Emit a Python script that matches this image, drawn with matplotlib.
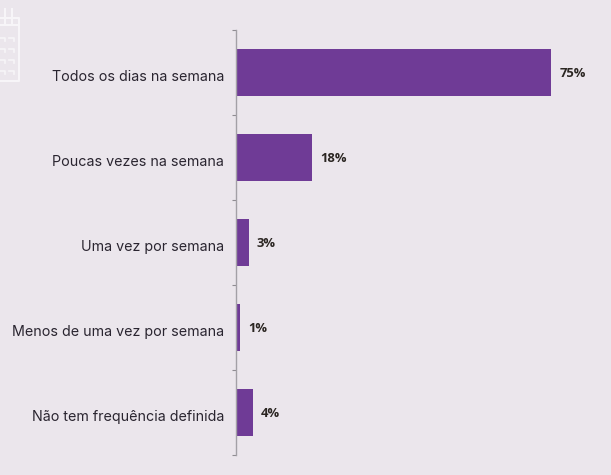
#!/usr/bin/env python3
import matplotlib
matplotlib.use("Agg")
import matplotlib.pyplot as plt
from matplotlib.lines import Line2D
from matplotlib.transforms import ScaledTranslation
import numpy as np

categories = ["Todos os dias na semana", "Poucas vezes na semana", "Uma vez por semana",
              "Menos de uma vez por semana", "Não tem frequência definida"]
values = [75, 18, 3, 1, 4]

BG = "#ebe6ec"
PURPLE = "#6f3b96"
W, H = 611, 475

fig = plt.figure(figsize=(W / 100, H / 100), dpi=100, facecolor=BG)
ax = fig.add_axes([236 / W, 1 - 455 / H, (W - 236) / W, 425 / H], facecolor="none")

y = np.arange(len(categories))
ax.barh(y, values, height=0.55, color=PURPLE)
ax.set_xlim(0, (W - 236) / 4.2)
ax.set_ylim(len(categories) - 0.5, -0.5)

for s in ["top", "right", "bottom"]:
    ax.spines[s].set_visible(False)
ax.spines["left"].set_color("#a3a0a6")
ax.spines["left"].set_linewidth(1.0)
ax.set_xticks([])

# tick marks sit between the bars, labels are on minor ticks at the bar centres
ax.set_yticks(np.arange(len(categories) + 1) - 0.5)
ax.set_yticklabels([])
ax.tick_params(axis="y", which="major", length=3.2, width=0.8, color="#8f8c92")
ax.set_yticks(y, minor=True)
ax.set_yticklabels(categories, minor=True, fontfamily="Inter", fontweight="normal",
                   fontsize=10.3, color="#2a2530")
ax.tick_params(axis="y", which="minor", length=0, pad=8.5)
shift = ScaledTranslation(0, -2.5 / 72, fig.dpi_scale_trans)
for lab in ax.get_yticklabels(minor=True):
    lab.set_transform(lab.get_transform() + shift)

for yi, v in zip(y, values):
    ax.annotate(f"{v}%", (v, yi), xytext=(6, -0.8), textcoords="offset points", va="center",
                ha="left", fontfamily="Open Sans", fontweight="bold", fontsize=9.4, color="#2b2622")

# calendar icon, cut by the left edge of the picture
icon = "#f7f5f8"
px = lambda xs, ys: ([a / W for a in xs], [1 - b / H for b in ys])
icon_paths = [
    ([0, 19, 19, 0], [18, 18, 81, 81]),
    ([0, 19], [25, 25]),
    ([5, 5], [9, 23]),
    ([12, 12], [9, 23]),
]
for xs, ys in icon_paths:
    fx, fy = px(xs, ys)
    fig.add_artist(Line2D(fx, fy, color=icon, lw=1.5))
for cy in [35, 46, 57, 68]:
    for cx in [0, 9]:
        fx, fy = px([cx, cx + 5, cx + 5], [cy + 3, cy + 3, cy + 6])
        fig.add_artist(Line2D(fx, fy, color=icon, lw=1.2))

fig.savefig("out.png", dpi=100, facecolor=BG)
